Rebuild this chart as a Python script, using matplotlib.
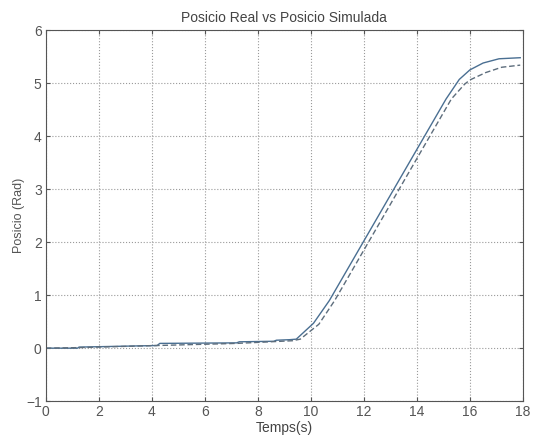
import matplotlib
matplotlib.use('Agg')
import matplotlib.pyplot as plt

# values
t_real = [0, 1.2, 1.25, 4.2, 4.3, 7.2, 7.3, 8.6, 8.7, 9.2, 9.45, 10.1, 10.7,
          11.8, 12.9, 14.0, 15.1, 15.6, 16.0, 16.5, 17.1, 17.9]
pos_real = [0, 0, 0.02, 0.05, 0.09, 0.10, 0.12, 0.13, 0.15, 0.16, 0.17, 0.47, 0.90,
            1.85, 2.80, 3.75, 4.70, 5.07, 5.25, 5.38, 5.46, 5.48]

t_sim = [0, 1.2, 4.2, 7.2, 9.3, 9.6, 10.3, 10.9,
         12.0, 13.1, 14.2, 15.3, 15.8, 16.0, 16.6, 17.2, 17.9]
pos_sim = [0, 0.01, 0.05, 0.09, 0.14, 0.17, 0.45, 0.90,
           1.85, 2.80, 3.75, 4.70, 4.98, 5.06, 5.20, 5.30, 5.34]

xticks = list(range(0, 19, 2))
yticks = list(range(-1, 7))

plt.rcParams['font.family'] = ['Liberation Sans', 'DejaVu Sans']

fig = plt.figure(figsize=(5.33, 4.37), dpi=100)
ax = fig.add_axes([0.086, 0.082, 0.895, 0.849])

ax.plot(t_real, pos_real, color='#4a6f92', lw=1.0)
ax.plot(t_sim, pos_sim, color='#5d6d7c', lw=1.0, ls=(0, (4, 2)))

ax.set_xlim(0, 18)
ax.set_ylim(-1, 6)
ax.set_xticks(xticks)
ax.set_yticks(yticks)
ax.grid(True, ls=':', color='#9a9a9a', lw=0.8)
ax.tick_params(direction='in', length=3, labelsize=10, colors='#555555',
               top=True, right=True, pad=3)
for s in ax.spines.values():
    s.set_color('#555555')
    s.set_linewidth(0.8)

ax.set_title('Posicio Real vs Posicio Simulada', fontsize=10, color='#444444', pad=6)
ax.set_xlabel('Temps(s)', fontsize=10, color='#444444', labelpad=1)
ax.set_ylabel('Posicio (Rad)', fontsize=9, color='#555555', labelpad=1)

fig.savefig('out.png', dpi=100)
